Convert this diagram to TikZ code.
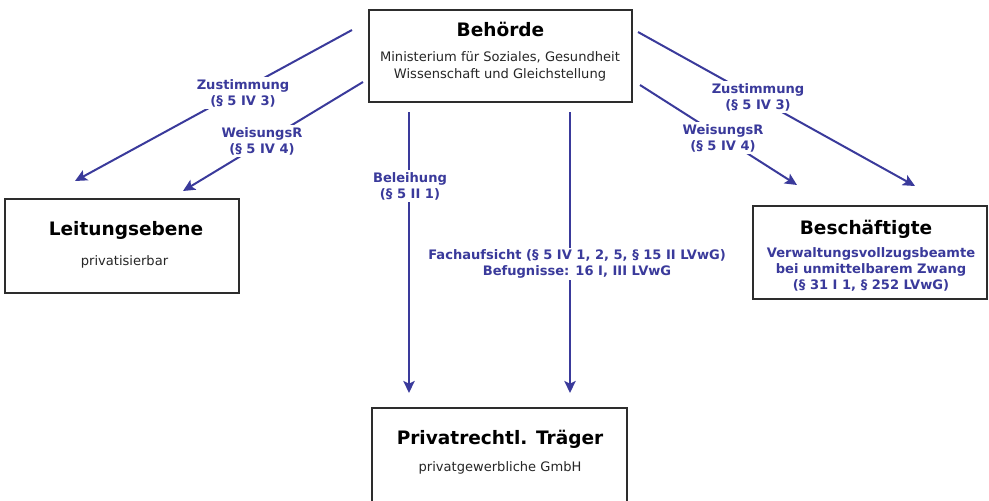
\documentclass[tikz,border=0pt]{standalone}
\usepackage{fontspec}
\setmainfont{DejaVu Sans}
\usetikzlibrary{arrows.meta}
\definecolor{linkblue}{RGB}{58,58,155}
\definecolor{frame}{RGB}{45,45,45}
\tikzset{
  orgbox/.style={draw=frame, line width=1.6pt, fill=white, inner sep=0pt},
  titletext/.style={font=\fontsize{13.9pt}{16pt}\selectfont\bfseries, text=black, inner sep=0pt},
  subtext/.style={font=\fontsize{9.8pt}{12.8pt}\selectfont, text=black!85, align=center, inner sep=0pt},
  bluetext/.style={font=\fontsize{9.8pt}{12pt}\selectfont\bfseries, text=linkblue, align=center, inner sep=0pt},
  edgelabel/.style={font=\fontsize{9.8pt}{12pt}\selectfont\bfseries, text=linkblue, align=center, fill=white, inner sep=1.5pt},
  relation/.style={draw=linkblue, line width=1.5pt, -{Stealth[length=9pt, width=8.5pt, inset=2pt]}}
}
\begin{document}
\begin{tikzpicture}[x=0.75pt, y=-0.75pt]
  \useasboundingbox (0,0) rectangle (989,500);

  % organisation boxes
  \node[orgbox, minimum width=197.25pt, minimum height=69pt] (behoerde) at (500.5,56) {};
  \node[titletext] (behoerdeT) at (500.5,29) {Behörde};
  \node[subtext] (behoerdeS) at (500,66) {Ministerium für Soziales, Gesundheit\\Wissenschaft und Gleichstellung};

  \node[orgbox, minimum width=175.5pt, minimum height=70.5pt] (leitung) at (122,246) {};
  \node[titletext] (leitungT) at (126,230) {Leitungsebene};
  \node[subtext] (leitungS) at (124.5,262) {privatisierbar};

  \node[orgbox, minimum width=175.5pt, minimum height=69.75pt] (besch) at (870,252.5) {};
  \node[titletext] (beschT) at (866,229) {Beschäftigte};
  \node[bluetext] (beschS) at (871,269) {Verwaltungsvollzugsbeamte\\bei unmittelbarem Zwang\\(§ 31 I 1, § 252 LVwG)};

  \node[orgbox, minimum width=191.25pt, minimum height=84pt] (traeger) at (499.5,464) {};
  \node[titletext] (traegerT) at (500,439) {Privatrechtl. Träger};
  \node[subtext] (traegerS) at (500,468) {privatgewerbliche GmbH};

  % connector end points
  \coordinate (lzS) at (352,30);   \coordinate (lzE) at (75,181);
  \coordinate (lwS) at (363,82);   \coordinate (lwE) at (183,191);
  \coordinate (rzS) at (638,32);   \coordinate (rzE) at (915,186);
  \coordinate (rwS) at (640,85);   \coordinate (rwE) at (797,185);
  \coordinate (beS) at (409,112);  \coordinate (beE) at (409,393);
  \coordinate (faS) at (570,112);  \coordinate (faE) at (570,393);

  % relations
  \draw[relation] (lzS) -- (lzE);
  \draw[relation] (lwS) -- (lwE);
  \draw[relation] (rzS) -- (rzE);
  \draw[relation] (rwS) -- (rwE);
  \draw[relation] (beS) -- (beE);
  \draw[relation] (faS) -- (faE);

  % relation labels
  \node[edgelabel] (lzL) at (243,93) {Zustimmung\\(§ 5 IV 3)};
  \node[edgelabel] (lwL) at (262,141) {WeisungsR\\(§ 5 IV 4)};
  \node[edgelabel] (rzL) at (758,97) {Zustimmung\\(§ 5 IV 3)};
  \node[edgelabel] (rwL) at (723,138) {WeisungsR\\(§ 5 IV 4)};
  \node[edgelabel] (beL) at (410,186) {Beleihung\\(§ 5 II 1)};
  \node[edgelabel] (faL) at (577,264) {Fachaufsicht (§ 5 IV 1, 2, 5, § 15 II LVwG)\\Befugnisse: 16 I, III LVwG};
\end{tikzpicture}
\end{document}
